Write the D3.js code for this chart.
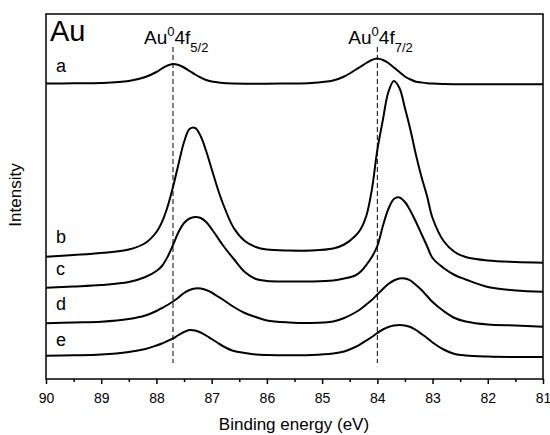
<!DOCTYPE html>
<html>
<head>
<meta charset="utf-8">
<script src="https://cdn.jsdelivr.net/npm/d3@7"></script>
<style>
  html, body { margin: 0; padding: 0; background: #fff; }
  svg { display: block; font-family: Arial, "Liberation Sans", Helvetica, sans-serif; }
</style>
</head>
<body>
<svg id="chart" width="550" height="435"></svg>
<script>
// Binding energy grid (eV)
const energy = [90, 89.5, 89, 88.5, 88.2, 88.0, 87.9, 87.8, 87.7, 87.6, 87.5, 87.4, 87.3, 87.2, 87.1, 87.0, 86.9, 86.8, 86.6, 86.4, 86.2, 86.0, 85.6, 85.2, 84.8, 84.6, 84.4, 84.3, 84.2, 84.1, 84.0, 83.9, 83.8, 83.7, 83.6, 83.5, 83.4, 83.3, 83.2, 83.1, 83.0, 82.8, 82.6, 82.4, 82.0, 81.5, 81.0];

// Intensity (a.u., stacked with offsets) for each spectrum
const seriesA = [295.5, 295.7, 296, 298, 302, 307, 310.5, 313.5, 315, 314, 311.5, 308, 304.5, 301.5, 299, 297.5, 296.7, 296, 295.5, 295.3, 295.3, 295.3, 295.5, 296, 298.5, 302.5, 309, 312.5, 316, 319, 320.5, 319, 316, 311.5, 307, 302.5, 299.5, 297.3, 296.5, 295.8, 295.4, 295, 294.8, 294.7, 294.7, 294.7, 294.7];
const seriesB = [122.3, 124, 126, 129.5, 136, 147, 157, 172, 192, 215, 237, 250, 251, 243, 228, 210, 192, 176, 151, 138, 132, 129.5, 128.5, 128.5, 130.5, 134.5, 143, 150, 163, 189, 229, 259, 287, 298, 291, 271, 249, 224, 202, 183, 161, 138, 127, 122, 118.5, 117, 116.3];
const seriesC = [91.3, 92.5, 94, 97, 102, 108, 113, 122, 134, 147, 156, 160.5, 162, 161, 157, 150, 142, 134, 120, 107, 100, 98, 97.5, 97.5, 98.5, 100.5, 103.5, 107.5, 114, 122, 133, 153, 170, 180, 181.5, 177, 168, 157, 145, 133, 121, 111, 104, 99.5, 92, 88.5, 87.3];
const seriesD = [55.7, 56.5, 57.3, 60, 63.5, 68, 71, 74, 77.5, 81.5, 86, 89, 90.5, 90.5, 89, 86.5, 83, 79.5, 72, 66, 62, 58.5, 56.5, 56, 57.5, 61, 66.5, 70, 74.5, 79, 84.5, 90, 95, 98.5, 100.5, 100.5, 98.5, 94, 89, 83, 77, 68, 61, 57.5, 54.5, 53.5, 52.3];
const seriesE = [23.3, 23.7, 24.5, 27, 30, 33.5, 35.5, 38, 40.5, 44, 47, 49, 48.5, 46.5, 43.5, 40, 36.5, 33, 28, 26, 24.5, 24, 23.7, 24, 25.5, 27.5, 32, 35, 38.5, 42, 46, 49.5, 52, 53.5, 54, 53.5, 52, 49, 45, 41, 36.5, 29.5, 25, 23.5, 22.5, 22, 22];

const seriesNames = ["a", "b", "c", "d", "e"];
const seriesList = [seriesA, seriesB, seriesC, seriesD, seriesE];
// label positions (energy, intensity) for the curve letters
const labelPos = [[89.82, 307], [89.82, 136], [89.82, 104], [89.82, 69], [89.82, 33]];

const majorTicks = [90, 89, 88, 87, 86, 85, 84, 83, 82, 81];
const minorTicks = [89.5, 88.5, 87.5, 86.5, 85.5, 84.5, 83.5, 82.5, 81.5];
const peakLines = [87.7, 84.0];
const peakLabels = [{name: "Au", sup: "0", core: "4f", sub: "5/2", e: 87.7}, {name: "Au", sup: "0", core: "4f", sub: "7/2", e: 84.0}];

const margin = {left: 46, right: 7, top: 14, bottom: 56};
const W = 550, H = 435;
const svg = d3.select("#chart");

const x = d3.scaleLinear().domain([90, 81]).range([margin.left, W - margin.right]);
const y = d3.scaleLinear().domain([0, 365]).range([H - margin.bottom, margin.top]);

// dashed reference lines
svg.append("g").selectAll("line").data(peakLines).join("line")
  .attr("x1", d => x(d)).attr("x2", d => x(d))
  .attr("y1", y(332)).attr("y2", y(16))
  .attr("stroke", "#000").attr("stroke-width", 1)
  .attr("stroke-dasharray", "5,3");

// curves
const line = d3.line()
  .x((d, i) => x(energy[i]))
  .y(d => y(d))
  .curve(d3.curveCatmullRom.alpha(0.5));

svg.append("g").selectAll("path").data(seriesList).join("path")
  .attr("d", d => line(d))
  .attr("fill", "none")
  .attr("stroke", "#000")
  .attr("stroke-width", 2)
  .attr("stroke-linejoin", "round");

// frame
svg.append("rect")
  .attr("x", margin.left).attr("y", margin.top)
  .attr("width", W - margin.left - margin.right)
  .attr("height", H - margin.top - margin.bottom)
  .attr("fill", "none").attr("stroke", "#000").attr("stroke-width", 1.5);

// x axis
const xAxis = d3.axisBottom(x).tickValues(majorTicks).tickSize(5).tickPadding(9).tickFormat(d3.format("d"));
const gx = svg.append("g").attr("transform", `translate(0,${H - margin.bottom})`).call(xAxis);
gx.select(".domain").remove();
gx.selectAll(".tick line").attr("stroke-width", 1.5);
gx.selectAll("text").attr("font-size", 14).attr("fill", "#000").attr("font-family", "Arial, 'Liberation Sans', sans-serif");

const xMinor = d3.axisBottom(x).tickValues(minorTicks).tickSize(3).tickFormat("");
const gxm = svg.append("g").attr("transform", `translate(0,${H - margin.bottom})`).call(xMinor);
gxm.select(".domain").remove();
gxm.selectAll(".tick line").attr("stroke-width", 1.5);

// axis titles
svg.append("text").attr("x", 294).attr("y", 430).attr("text-anchor", "middle")
  .attr("font-size", 17).text("Binding energy (eV)");
svg.append("text").attr("transform", "translate(21,195) rotate(-90)").attr("text-anchor", "middle")
  .attr("font-size", 17).text("Intensity");

// Au label
svg.append("text").attr("x", 50).attr("y", 41).attr("font-size", 29).text("Au");

// curve letters
svg.append("g").selectAll("text").data(seriesNames).join("text")
  .attr("x", (d, i) => x(labelPos[i][0]))
  .attr("y", (d, i) => y(labelPos[i][1]))
  .attr("font-size", 18)
  .text(d => d);

// peak labels
const pl = svg.append("g").selectAll("text").data(peakLabels).join("text")
  .attr("x", d => x(d.e) - 29)
  .attr("y", 44)
  .attr("font-size", 19);
pl.append("tspan").text(d => d.name);
pl.append("tspan").attr("font-size", 13).attr("dy", -8).text(d => d.sup);
pl.append("tspan").attr("dy", 8).text(d => d.core);
pl.append("tspan").attr("font-size", 13).attr("dy", 8).text(d => d.sub);
</script>
</body>
</html>
